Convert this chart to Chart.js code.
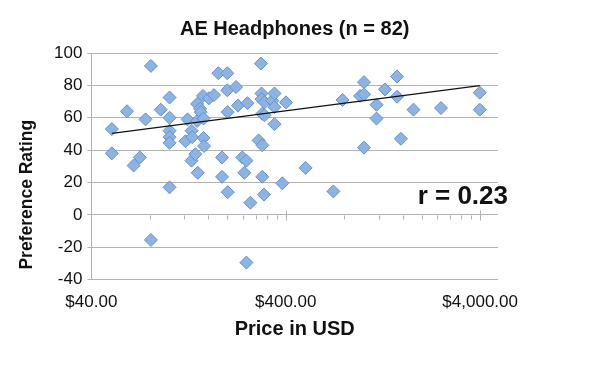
<!DOCTYPE html>
<html>
<head>
<meta charset="utf-8">
<title>AE Headphones</title>
<script src="https://cdn.jsdelivr.net/npm/chart.js@4/dist/chart.umd.min.js"></script>
<style>
  html, body { margin: 0; padding: 0; background: #fff; }
  #wrap { width: 600px; height: 376px; }
</style>
</head>
<body>
<div id="wrap"><canvas id="myChart" width="600" height="376"></canvas></div>
<script>
// price (USD) of each headphone
const prices = [
  51, 51, 61, 66, 71, 76, 81, 81, 91, 101,
  101, 101, 101, 101, 101, 122, 125, 131, 132, 131,
  137, 141, 140, 140, 145, 146, 150, 151, 151, 152,
  161, 171, 180, 188, 188, 200, 200, 201, 201, 222,
  227, 239, 245, 251, 254, 251, 263, 290, 298, 300,
  300, 303, 303, 303, 309, 311, 311, 341, 350, 350,
  350, 384, 401, 506, 703, 784, 964, 1010, 1010, 1010,
  1172, 1172, 1295, 1495, 1495, 1564, 1816, 2515, 3980, 3980
];
// preference rating for the same headphones
const ratings = [
  53, 38, 64, 30.5, 35.5, 59, 92, -15.5, 65, 72.5,
  60, 52, 48, 44.5, 17, 45.5, 59, 52, 48, 33.5,
  37.5, 26, 58, 68.5, 65.5, 63.5, 73.5, 59.5, 47.5, 42.5,
  72, 74, 87.5, 35.5, 23.5, 87.5, 77, 63.5, 14, 79,
  67.5, 35.5, 26, 33.5, 69, -29.5, 7.5, 46, 93.5, 75,
  71.5, 62.5, 43, 23.5, 12.5, 69.5, 61.5, 70.5, 75, 66.5,
  56, 19.5, 69.5, 29, 14.5, 71, 73.5, 82, 41.5, 74.5,
  68, 59.5, 77.5, 85.5, 73, 47, 65, 66, 75.5, 65
];
// trend line end points
const trendPrices = [51, 3980];
const trendRatings = [50.4, 79.9];

const xTickValues = [40, 400, 4000];
const xTickLabels = ['$40.00', '$400.00', '$4,000.00'];
const xMin = 40;
const xMax = 4940;
const yMin = -40;
const yMax = 100;
const yStep = 20;
const rLabel = 'r = 0.23';
const yTitle = 'Preference Rating';

const FONT = '"Liberation Sans", Arial, Helvetica, sans-serif';
const GRID = '#b3b3b3';

// minor log ticks 2x..9x of each decade
const minorTicks = [];
xTickValues.forEach(m => {
  for (let k = 2; k <= 9; k++) {
    if (m * k < xMax) minorTicks.push(m * k);
  }
});

// x axis crosses at y = 0 (like excel), labels stay at the bottom
const zeroAxis = {
  id: 'zeroAxis',
  beforeDatasetsDraw(chart) {
    const { ctx, scales: { x, y } } = chart;
    const y0 = Math.round(y.getPixelForValue(0)) + 0.5;
    ctx.save();
    ctx.strokeStyle = GRID;
    ctx.lineWidth = 1;
    ctx.beginPath();
    minorTicks.forEach(v => {
      const px = Math.round(x.getPixelForValue(v)) + 0.5;
      ctx.moveTo(px, y0);
      ctx.lineTo(px, y0 + 4);
    });
    xTickValues.forEach(v => {
      const px = Math.round(x.getPixelForValue(v)) + 0.5;
      ctx.moveTo(px, y0 - 5);
      ctx.lineTo(px, y0 + 5);
    });
    ctx.stroke();
    ctx.restore();
  },
  afterDraw(chart) {
    const { ctx, chartArea, scales: { y } } = chart;
    ctx.save();
    ctx.font = 'bold 26px ' + FONT;
    ctx.fillStyle = '#111';
    ctx.textAlign = 'right';
    ctx.textBaseline = 'alphabetic';
    ctx.fillText(rLabel, chartArea.right + 10, y.getPixelForValue(0) - 11);
    // y axis title, sits a bit low like the excel original
    ctx.translate(chartArea.left - 64, chartArea.bottom - 10);
    ctx.rotate(-Math.PI / 2);
    ctx.font = 'bold 17.5px ' + FONT;
    ctx.textAlign = 'left';
    ctx.textBaseline = 'middle';
    ctx.fillText(yTitle, 0, 0);
    ctx.restore();
  }
};

const ctx = document.getElementById('myChart').getContext('2d');
const myChart = new Chart(ctx, {
  type: 'scatter',
  data: {
    datasets: [
      {
        // first dataset is drawn on top
        label: 'Trend',
        data: trendPrices.map((p, i) => ({ x: p, y: trendRatings[i] })),
        showLine: true,
        borderColor: '#111',
        borderWidth: 1.2,
        pointRadius: 0,
        fill: false
      },
      {
        label: 'AE Headphones',
        data: prices.map((p, i) => ({ x: p, y: ratings[i] })),
        pointStyle: 'rectRot',
        pointRadius: 6.5,
        backgroundColor: '#8db3e2',
        borderColor: '#6392cf',
        borderWidth: 1
      }
    ]
  },
  options: {
    responsive: false,
    animation: false,
    layout: { padding: { left: 49, right: 102, top: 0, bottom: 20 } },
    plugins: {
      legend: { display: false },
      tooltip: { enabled: false },
      title: {
        display: true,
        fullSize: false,
        text: 'AE Headphones (n = 82)',
        color: '#111',
        font: { family: FONT, size: 20, weight: 'bold' },
        padding: { top: 17, bottom: 12 }
      }
    },
    scales: {
      x: {
        type: 'logarithmic',
        min: xMin,
        max: xMax,
        afterBuildTicks: (scale) => {
          scale.ticks = xTickValues.map(v => ({ value: v }));
        },
        ticks: {
          callback: (val, i) => xTickLabels[i],
          color: '#111',
          font: { family: FONT, size: 17 },
          padding: 13,
          maxRotation: 0,
          autoSkip: false
        },
        grid: { display: false, drawTicks: false },
        border: { display: false },
        title: {
          display: true,
          text: 'Price in USD',
          color: '#111',
          font: { family: FONT, size: 20, weight: 'bold' },
          padding: { top: -9, bottom: 15 }
        }
      },
      y: {
        min: yMin,
        max: yMax,
        ticks: {
          stepSize: yStep,
          color: '#111',
          font: { family: FONT, size: 17 },
          padding: 5
        },
        grid: { color: GRID, tickLength: 4 },
        border: { color: GRID }
      }
    }
  },
  plugins: [zeroAxis]
});
</script>
</body>
</html>
